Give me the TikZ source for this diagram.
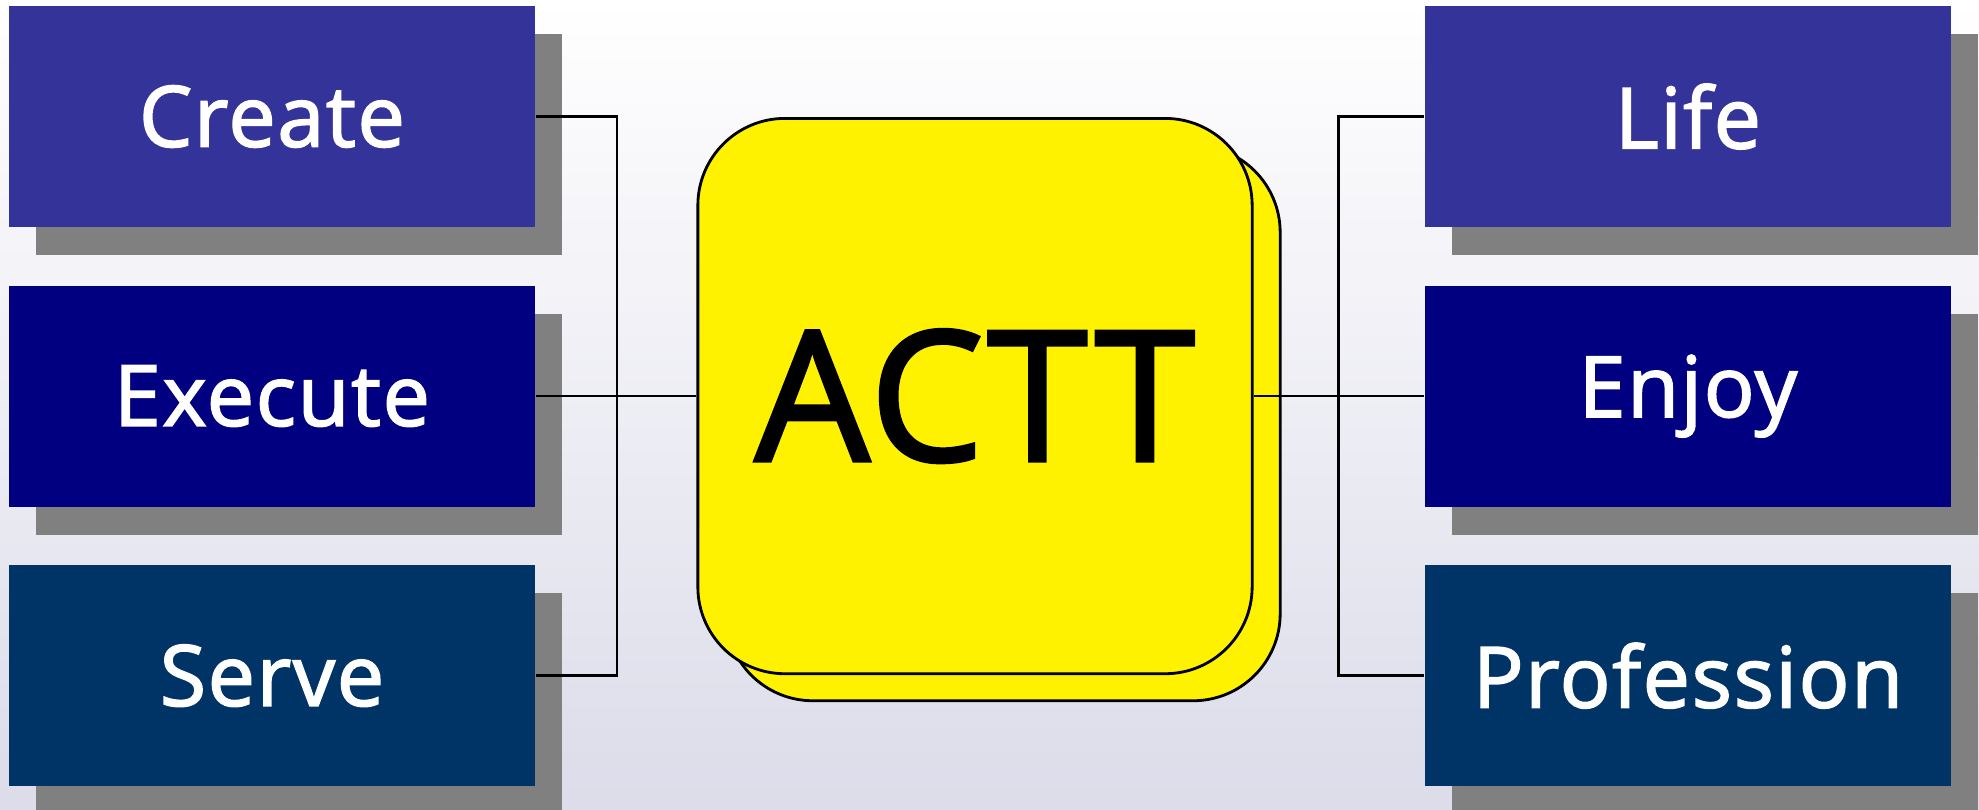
\documentclass[tikz,border=0pt]{standalone}
\usepackage{fontspec}
\setmainfont{Open Sans}
\newfontfamily\heavy{Open Sans}[FakeBold=2,LetterSpace=2]
\usetikzlibrary{positioning,shadows,calc}
\definecolor{Slate}{HTML}{333399}
\definecolor{Navy}{HTML}{000080}
\definecolor{Marine}{HTML}{003366}
\definecolor{Haze}{HTML}{DCDCEA}
\begin{document}
\begin{tikzpicture}[x=0.01cm,y=-0.01cm,node distance=5.7mm,
        b/.style={minimum width=5.26cm,minimum height=2.21cm,inner sep=0pt,text=white,font=\heavy\fontsize{24}{28}\selectfont,
          drop shadow={shadow xshift=2.7mm,shadow yshift=-2.8mm,fill=gray,opacity=1}},
        core/.style={draw=black,fill=yellow,thick,rounded corners=8.7mm,minimum width=5.54cm,minimum height=5.55cm,
          font=\heavy\fontsize{51.5}{60}\selectfont,copy shadow={shadow xshift=2.8mm,shadow yshift=-2.7mm,fill=yellow,draw=black}},
        l/.style={draw=black,thick}]
        \useasboundingbox[shade,top color=white,bottom color=Haze] (0,0) rectangle (1979,809);
        \node[b,fill=Slate] (create) at (272,116.5) {Create};
        \node[b,fill=Navy,below=of create] (execute) {Execute};
        \node[b,fill=Marine,below=of execute] (serve) {Serve};
        \node[b,fill=Slate] (life) at (1688,116.5) {Life};
        \node[b,fill=Navy,below=of life] (enjoy) {Enjoy};
        \node[b,fill=Marine,below=of enjoy] (profession) {Profession};
        \node[core,xshift=-0.5mm] (actt) at ($(execute.east)!.5!(enjoy.west)$) {ACTT};
        \coordinate[right=8.1mm of execute.east] (lj); \coordinate[left=8.6mm of enjoy.west] (rj);
        \draw[l] (create.east) -| (lj) |- (serve.east); \draw[l] (execute.east) -- (actt.west);
        \draw[l] (life.west) -| (rj) |- (profession.west); \draw[l] (actt.east) -- (enjoy.west);
      \end{tikzpicture}
\end{document}
